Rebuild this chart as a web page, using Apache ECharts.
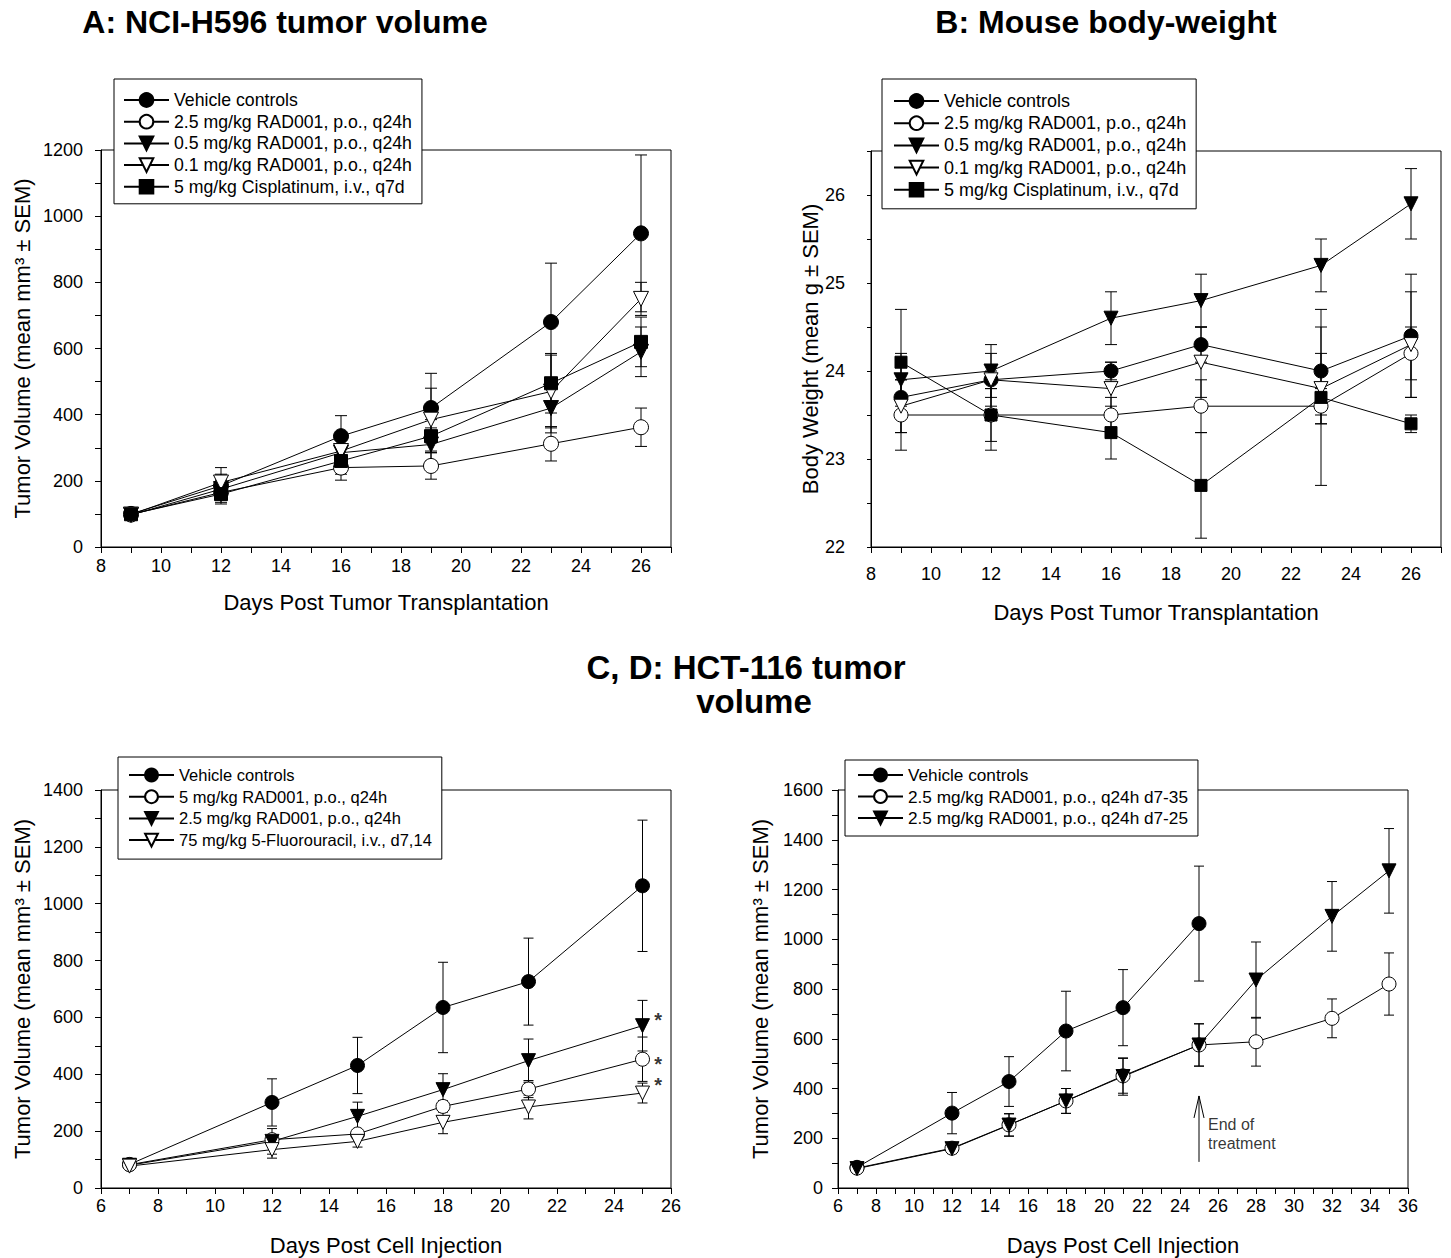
<!DOCTYPE html>
<html><head><meta charset="utf-8">
<script src="https://cdn.jsdelivr.net/npm/echarts@6/dist/echarts.min.js"></script>
<style>html,body{margin:0;padding:0;background:#fff}#c{width:1451px;height:1258px}</style>
</head><body><div id="c"></div>
<script>
// ---------- Panel A: NCI-H596 tumor volume ----------
const daysA = [9, 12, 16, 19, 23, 26];
const A_veh = [100, 185, 335, 420, 680, 948];
const A_veh_sem = [8, 35, 62, 105, 178, 237];
const A_r25 = [98, 165, 240, 245, 312, 362];
const A_r25_sem = [6, 30, 38, 40, 52, 58];
const A_r05 = [97, 175, 285, 310, 420, 590];
const A_r05_sem = [6, 28, 45, 50, 75, 75];
const A_r01 = [98, 195, 290, 385, 470, 750];
const A_r01_sem = [6, 45, 50, 95, 110, 50];
const A_cis = [99, 160, 260, 335, 495, 620];
const A_cis_sem = [7, 30, 40, 50, 90, 75];

// ---------- Panel B: Mouse body-weight ----------
const daysB = [9, 12, 16, 19, 23, 26];
const B_veh = [23.7, 23.9, 24.0, 24.3, 24.0, 24.4];
const B_veh_sem = [0.4, 0.3, 0.1, 0.2, 0.5, 0.7];
const B_r25 = [23.5, 23.5, 23.5, 23.6, 23.6, 24.2];
const B_r25_sem = [0.4, 0.3, 0.2, 0.3, 0.2, 0.3];
const B_r05 = [23.9, 24.0, 24.6, 24.8, 25.2, 25.9];
const B_r05_sem = [0.3, 0.3, 0.3, 0.3, 0.3, 0.4];
const B_r01 = [23.6, 23.9, 23.8, 24.1, 23.8, 24.3];
const B_r01_sem = [0.3, 0.1, 0.3, 0.4, 0.4, 0.6];
const B_cis = [24.1, 23.5, 23.3, 22.7, 23.7, 23.4];
const B_cis_sem = [0.6, 0.4, 0.3, 0.6, 1.0, 0.1];

// ---------- Panel C: HCT-116 ----------
const daysC = [7, 12, 15, 18, 21, 25];
const C_veh = [83, 301, 431, 635, 726, 1063];
const C_veh_sem = [8, 83, 99, 159, 153, 231];
const C_r5 = [82, 170, 190, 287, 348, 453];
const C_r5_sem = [6, 15, 12, 20, 30, 78];
const C_r25 = [80, 164, 252, 346, 448, 571];
const C_r25_sem = [6, 45, 50, 56, 76, 89];
const C_5fu = [77, 135, 164, 231, 285, 334];
const C_5fu_sem = [5, 30, 20, 40, 42, 35];
const C_star_x = [25.55, 25.55, 25.55];
const C_star_y = [590, 437, 361];

// ---------- Panel D: HCT-116 ----------
const daysDveh = [7, 12, 15, 18, 21, 25];
const D_veh = [83, 301, 428, 631, 725, 1063];
const D_veh_sem = [8, 83, 100, 160, 153, 231];
const daysD = [7, 12, 15, 18, 21, 25, 28, 32, 35];
const D_c35 = [80, 160, 254, 350, 451, 575, 588, 682, 820];
const D_c35_sem = [6, 20, 45, 50, 70, 85, 98, 78, 125];
const D_c25 = [78, 158, 253, 350, 448, 575, 836, 1092, 1275];
const D_c25_sem = [6, 20, 45, 50, 75, 85, 153, 140, 170];
const D_arrow = [[25, 105, 370]];
const D_note = [[25.45, 217]];

const namesA = ['Vehicle controls', '2.5 mg/kg RAD001, p.o., q24h', '0.5 mg/kg RAD001, p.o., q24h', '0.1 mg/kg RAD001, p.o., q24h', '5 mg/kg Cisplatinum, i.v., q7d'];
const namesC = ['Vehicle controls', '5 mg/kg RAD001, p.o., q24h', '2.5 mg/kg RAD001, p.o., q24h', '75 mg/kg 5-Fluorouracil, i.v., d7,14'];
const namesD = ['Vehicle controls', '2.5 mg/kg RAD001, p.o., q24h d7-35', '2.5 mg/kg RAD001, p.o., q24h d7-25'];

const FONT = '"Liberation Sans", Arial, Helvetica, sans-serif';
const pts = (xs, ys) => xs.map((x, i) => [x, ys[i]]);
const errs = (xs, ys, es) => xs.map((x, i) => [x, ys[i], es[i]]);

function errSeries(xs, ys, es, cap, idx) {
  return {
    type: 'custom', xAxisIndex: idx, yAxisIndex: idx, data: errs(xs, ys, es), z: 1, silent: true,
    renderItem(params, api) {
      const x = api.value(0), m = api.value(1), e = api.value(2);
      const hi = api.coord([x, m + e]), lo = api.coord([x, m - e]);
      const st = { stroke: '#000', lineWidth: 1 };
      return { type: 'group', children: [
        { type: 'line', shape: { x1: hi[0], y1: hi[1], x2: lo[0], y2: lo[1] }, style: st },
        { type: 'line', shape: { x1: hi[0] - cap, y1: hi[1], x2: hi[0] + cap, y2: hi[1] }, style: st },
        { type: 'line', shape: { x1: lo[0] - cap, y1: lo[1], x2: lo[0] + cap, y2: lo[1] }, style: st }
      ]};
    }
  };
}
function lineSeries(name, xs, ys, sym, filled, size, idx, rotate) {
  return {
    type: 'line', name, xAxisIndex: idx, yAxisIndex: idx, data: pts(xs, ys),
    symbol: sym, symbolSize: size, symbolRotate: rotate || 0, showAllSymbol: true, z: 3,
    lineStyle: { color: '#000', width: 1 },
    itemStyle: { color: filled ? '#000' : '#fff', borderColor: '#000', borderWidth: 1 },
    emphasis: { disabled: true }, silent: true
  };
}
function xAx(idx, min, max, name, margin, gap) {
  return {
    type: 'value', gridIndex: idx, min, max, interval: 1, name, nameLocation: 'middle', nameGap: gap,
    nameTextStyle: { fontSize: 22, fontFamily: FONT, color: '#000' },
    axisLine: { show: true, onZero: false, lineStyle: { color: '#000', width: 1 } },
    axisTick: { show: true, inside: false, length: 6, lineStyle: { color: '#000' } },
    axisLabel: { margin, fontSize: 18, fontFamily: FONT, color: '#000', formatter: v => (Math.round(v) % 2 === 0 ? String(Math.round(v)) : '') },
    splitLine: { show: false }
  };
}
function yAx(idx, min, max, interval, labelEvery, name, margin, gap, tickLen) {
  return {
    type: 'value', gridIndex: idx, min, max, interval, name, nameLocation: 'middle', nameGap: gap,
    nameTextStyle: { fontSize: 22, fontFamily: FONT, color: '#000' },
    axisLine: { show: true, onZero: false, lineStyle: { color: '#000', width: 1 } },
    axisTick: { show: true, inside: false, length: tickLen, lineStyle: { color: '#000' } },
    axisLabel: { margin, fontSize: 18, fontFamily: FONT, color: '#000',
      formatter: v => { const k = v / labelEvery; return Math.abs(k - Math.round(k)) < 1e-6 ? String(Math.round(v * 10) / 10) : ''; } },
    splitLine: { show: false }
  };
}
function legend(prefix, names, left, top, pad, gap, fs, ih) {
  return {
    orient: 'vertical', left, top, padding: pad, itemGap: gap, itemWidth: 45, itemHeight: ih,
    backgroundColor: '#fff', borderColor: '#000', borderWidth: 1, borderRadius: 0, selectedMode: false,
    textStyle: { fontSize: fs, fontFamily: FONT, color: '#000', lineHeight: 18 },
    data: names.map(n => prefix + '|' + n), formatter: n => n.split('|')[1]
  };
}
const grid = (left, top, width, height) => ({ left, top, width, height, show: true, borderColor: '#000', borderWidth: 1, containLabel: false, outerBoundsMode: 'none' });

const series = [
  // A
  errSeries(daysA, A_veh, A_veh_sem, 6, 0), errSeries(daysA, A_r25, A_r25_sem, 6, 0), errSeries(daysA, A_r05, A_r05_sem, 6, 0),
  errSeries(daysA, A_r01, A_r01_sem, 6, 0), errSeries(daysA, A_cis, A_cis_sem, 6, 0),
  lineSeries('A|' + namesA[0], daysA, A_veh, 'circle', true, 15, 0),
  lineSeries('A|' + namesA[1], daysA, A_r25, 'circle', false, 15, 0),
  lineSeries('A|' + namesA[2], daysA, A_r05, 'triangle', true, 15, 0, 180),
  lineSeries('A|' + namesA[3], daysA, A_r01, 'triangle', false, 15, 0, 180),
  lineSeries('A|' + namesA[4], daysA, A_cis, 'rect', true, 13, 0),
  // B
  errSeries(daysB, B_veh, B_veh_sem, 6, 1), errSeries(daysB, B_r25, B_r25_sem, 6, 1), errSeries(daysB, B_r05, B_r05_sem, 6, 1),
  errSeries(daysB, B_r01, B_r01_sem, 6, 1), errSeries(daysB, B_cis, B_cis_sem, 6, 1),
  lineSeries('B|' + namesA[0], daysB, B_veh, 'circle', true, 14, 1),
  lineSeries('B|' + namesA[1], daysB, B_r25, 'circle', false, 14, 1),
  lineSeries('B|' + namesA[2], daysB, B_r05, 'triangle', true, 14, 1, 180),
  lineSeries('B|' + namesA[3], daysB, B_r01, 'triangle', false, 14, 1, 180),
  lineSeries('B|' + namesA[4], daysB, B_cis, 'rect', true, 12, 1),
  // C
  errSeries(daysC, C_veh, C_veh_sem, 5, 2), errSeries(daysC, C_r5, C_r5_sem, 5, 2),
  errSeries(daysC, C_r25, C_r25_sem, 5, 2), errSeries(daysC, C_5fu, C_5fu_sem, 5, 2),
  lineSeries('C|' + namesC[0], daysC, C_veh, 'circle', true, 14, 2),
  lineSeries('C|' + namesC[1], daysC, C_r5, 'circle', false, 14, 2),
  lineSeries('C|' + namesC[2], daysC, C_r25, 'triangle', true, 14, 2, 180),
  lineSeries('C|' + namesC[3], daysC, C_5fu, 'triangle', false, 14, 2, 180),
  { type: 'scatter', xAxisIndex: 2, yAxisIndex: 2, data: pts(C_star_x, C_star_y), symbol: 'circle', symbolSize: 1,
    itemStyle: { color: 'rgba(0,0,0,0)' }, silent: true, z: 4,
    label: { show: true, position: 'inside', formatter: '*', fontSize: 20, fontWeight: 'bold', fontFamily: FONT, color: '#000' } },
  // D
  errSeries(daysDveh, D_veh, D_veh_sem, 5, 3), errSeries(daysD, D_c35, D_c35_sem, 5, 3), errSeries(daysD, D_c25, D_c25_sem, 5, 3),
  lineSeries('D|' + namesD[0], daysDveh, D_veh, 'circle', true, 14, 3),
  lineSeries('D|' + namesD[1], daysD, D_c35, 'circle', false, 14, 3),
  lineSeries('D|' + namesD[2], daysD, D_c25, 'triangle', true, 14, 3, 180),
  { type: 'custom', xAxisIndex: 3, yAxisIndex: 3, data: D_arrow, silent: true, z: 4,
    renderItem(params, api) {
      const x = api.value(0);
      const a = api.coord([x, api.value(1)]), b = api.coord([x, api.value(2)]);
      const st = { stroke: '#000', lineWidth: 1 };
      return { type: 'group', children: [
        { type: 'line', shape: { x1: a[0], y1: a[1], x2: b[0], y2: b[1] }, style: st },
        { type: 'line', shape: { x1: b[0], y1: b[1], x2: b[0] - 5, y2: b[1] + 22 }, style: st },
        { type: 'line', shape: { x1: b[0], y1: b[1], x2: b[0] + 5, y2: b[1] + 22 }, style: st }
      ]};
    } },
  { type: 'scatter', xAxisIndex: 3, yAxisIndex: 3, data: D_note, symbol: 'circle', symbolSize: 1,
    itemStyle: { color: 'rgba(0,0,0,0)' }, silent: true, z: 4,
    label: { show: true, position: 'right', distance: 0, align: 'left', formatter: 'End of\ntreatment', fontSize: 16, lineHeight: 19, fontFamily: FONT, color: '#000' } }
];

const titleText = (text, x, y, size) => ({ type: 'text', x, y, silent: true,
  style: { text, font: 'bold ' + size + 'px ' + FONT, fontWeight: 'bold', fontSize: size, fontFamily: FONT,
    align: 'center', verticalAlign: 'middle', textAlign: 'center', textVerticalAlign: 'middle', fill: '#000' } });

const option = {
  animation: false,
  backgroundColor: '#fff',
  graphic: [
    titleText('A: NCI-H596 tumor volume', 285, 22, 32),
    titleText('B: Mouse body-weight', 1106, 22, 32),
    titleText('C, D: HCT-116 tumor', 746, 667, 33),
    titleText('volume', 754, 701, 33)
  ],
  grid: [grid(101, 150, 570, 397), grid(871, 151, 570, 396), grid(101, 790, 570, 398), grid(838, 790, 570, 398)],
  xAxis: [
    xAx(0, 8, 27, 'Days Post Tumor Transplantation', 10, 44),
    xAx(1, 8, 27, 'Days Post Tumor Transplantation', 18, 54),
    xAx(2, 6, 26, 'Days Post Cell Injection', 9, 46),
    xAx(3, 6, 36, 'Days Post Cell Injection', 9, 46)
  ],
  yAxis: [
    yAx(0, 0, 1200, 100, 200, 'Tumor Volume (mean mm\u00b3 \u00b1 SEM)', 18, 68, 6),
    yAx(1, 22, 26.5, 0.5, 1, 'Body Weight (mean g \u00b1 SEM)', 26, 50, 4),
    yAx(2, 0, 1400, 100, 200, 'Tumor Volume (mean mm\u00b3 \u00b1 SEM)', 18, 68, 6),
    yAx(3, 0, 1600, 100, 200, 'Tumor Volume (mean mm\u00b3 \u00b1 SEM)', 15, 67, 6)
  ],
  legend: [
    legend('A', namesA, 114, 79, [12, 10, 8, 9], 3.7, 17.7, 17),
    legend('B', namesA, 882, 79, [13, 10, 10, 11], 4.2, 18, 17),
    legend('C', namesC, 118, 757, [9, 10, 10, 10], 3.7, 16.5, 16),
    legend('D', namesD, 845, 760, [6, 10, 9, 12], 3.5, 17.2, 16)
  ],
  series
};
const chart = echarts.init(document.getElementById('c'), null, { renderer: 'svg', width: 1451, height: 1258 });
chart.setOption(option);
</script>
</body></html>
